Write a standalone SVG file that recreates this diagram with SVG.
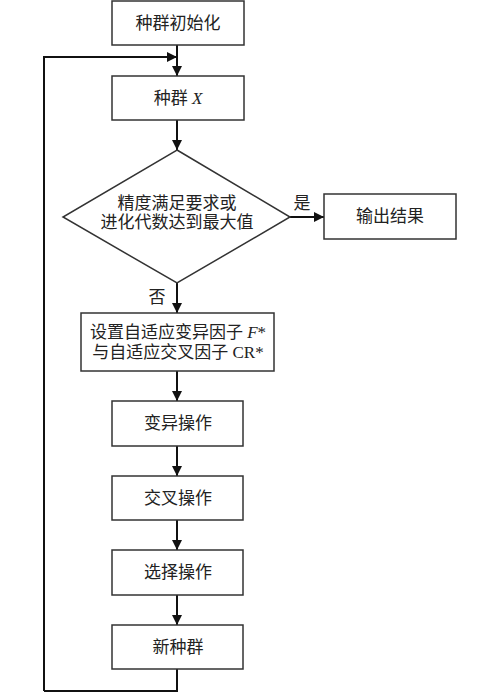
<svg xmlns="http://www.w3.org/2000/svg" width="500" height="692" viewBox="0 0 500 692">
<defs>
<marker id="ah" markerWidth="10" markerHeight="10" refX="10" refY="5" orient="auto" markerUnits="userSpaceOnUse">
<path d="M0,0 L10,5 L0,10 Z" fill="#111"/>
</marker>
<style>
.box{fill:#fff;stroke:#333;stroke-width:1.5}
.t{font-family:"Liberation Serif","Noto Sans CJK SC",serif;font-size:17px;fill:#222;text-anchor:middle;dominant-baseline:central}
.c{fill:none;stroke:#111;stroke-width:2}
</style>
</defs>
<rect width="500" height="692" fill="#fff"/>
<g id="connectors">
<path class="c" d="M177,45 V76" marker-end="url(#ah)"/>
<path class="c" d="M44,691 V57 H177" marker-end="url(#ah)"/>
<path class="c" d="M177,120 V150" marker-end="url(#ah)"/>
<path class="c" d="M290,217 H324" marker-end="url(#ah)"/>
<path class="c" d="M177,283 V313" marker-end="url(#ah)"/>
<path class="c" d="M177,371 V401" marker-end="url(#ah)"/>
<path class="c" d="M177,446 V476" marker-end="url(#ah)"/>
<path class="c" d="M177,520 V550" marker-end="url(#ah)"/>
<path class="c" d="M177,595 V625" marker-end="url(#ah)"/>
<path class="c" d="M177,669 V691 H44"/>
<text class="t" x="302" y="203">是</text>
<text class="t" x="157" y="297">否</text>
</g>
<g id="init"><rect class="box" x="112" y="1" width="132" height="44"/><text class="t" x="178" y="23">种群初始化</text></g>
<g id="pop"><rect class="box" x="112" y="76" width="132" height="44"/><text class="t" x="178" y="98">种群 <tspan font-style="italic">X</tspan></text></g>
<g id="cond"><polygon class="box" points="177,150 290,217 177,283 63,217"/><text class="t" x="177" y="203">精度满足要求或</text><text class="t" x="177" y="222">进化代数达到最大值</text></g>
<g id="output"><rect class="box" x="324" y="194" width="132" height="45"/><text class="t" x="390" y="216">输出结果</text></g>
<g id="setf"><rect class="box" x="81" y="313" width="193" height="58"/><text class="t" x="178" y="332">设置自适应变异因子 <tspan font-style="italic">F</tspan>*</text><text class="t" x="178" y="352">与自适应交叉因子 CR*</text></g>
<g id="mut"><rect class="box" x="112" y="401" width="131" height="45"/><text class="t" x="178" y="423">变异操作</text></g>
<g id="cross"><rect class="box" x="112" y="476" width="131" height="44"/><text class="t" x="178" y="498">交叉操作</text></g>
<g id="sel"><rect class="box" x="112" y="550" width="131" height="45"/><text class="t" x="178" y="572">选择操作</text></g>
<g id="newpop"><rect class="box" x="112" y="625" width="131" height="44"/><text class="t" x="178" y="647">新种群</text></g>
</svg>
